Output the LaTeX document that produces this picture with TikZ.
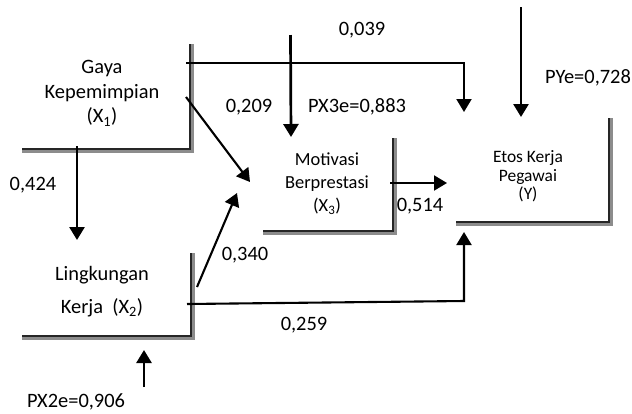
\documentclass[tikz,border=0pt]{standalone}
\usepackage{fontspec}
\setmainfont{Carlito}
\usetikzlibrary{arrows.meta}
\tikzset{
  shadowline/.style={line width=3.5bp, draw=black!45, line cap=butt, line join=miter},
  edgeline/.style={line width=1.5bp, draw=black!85, line join=miter},
  conn/.style={line width=2.1bp, -{Triangle[width=15bp,length=13bp]}},
  vconn/.style={line width=2.7bp, -{Triangle[width=15bp,length=13bp]}},
  lab/.style={font=\fontsize{20.5}{25}\selectfont, inner sep=0pt},
  bigtext/.style={align=center, font=\fontsize{20.5}{25}\selectfont, inner sep=0pt},
  midtext/.style={align=center, font=\fontsize{18.5}{23.5}\selectfont, inner sep=0pt},
  smalltext/.style={align=center, font=\fontsize{17.5}{18.5}\selectfont, inner sep=0pt},
}
\newcommand{\shadowL}[4]{% right x, top y, bottom y, left x
  \draw[shadowline] (#1+1.8,#2) -- (#1+1.8,#3+1.8) -- (#4,#3+1.8);
  \draw[edgeline] (#1,#2) -- (#1,#3) -- (#4,#3);
}
\begin{document}
\begin{tikzpicture}[x=1bp,y=-1bp]
\useasboundingbox (0,0) rectangle (632,413);

% box outlines (shadowed right and bottom edges)
\shadowL{190}{44}{149}{22}
\shadowL{191}{253}{336}{22}
\shadowL{393}{138}{231}{263}
\shadowL{609}{118}{222}{456}

% box texts
\node[bigtext] (x1) at (102,93) {Gaya\\Kepemimpian\\(X\textsubscript{1})};
\node[bigtext] (x2) at (102,291.5) {Lingkungan\\[8bp]Kerja\ \ (X\textsubscript{2})};
\node[midtext] (x3) at (327,183.5) {Motivasi\\Berprestasi\\(X\textsubscript{3})};
\node[smalltext] (y) at (528,176.5) {Etos Kerja\\Pegawai\\(Y)};

% labels
\node[lab] (l039) at (362,30) {0,039};
\node[lab] (l209) at (249,107) {0,209};
\node[lab] (lpx3) at (357,107) {PX3e=0,883};
\node[lab] (lpy) at (588,78) {PYe=0,728};
\node[lab] (l424) at (33,185) {0,424};
\node[lab] (l340) at (245,255) {0,340};
\node[lab] (l514) at (420,206) {0,514};
\node[lab] (l259) at (304,325) {0,259};
\node[lab] (lpx2) at (76,402) {PX2e=0,906};

% connector end points
\coordinate (x1r) at (186,63);
\coordinate (ytl) at (464,112);
\coordinate (px3s) at (290.5,35);
\coordinate (x3t) at (291,137);
\coordinate (pys) at (521,7);
\coordinate (yt) at (521,117);
\coordinate (x1d) at (186,97);
\coordinate (x3l) at (250,182);
\coordinate (x1b) at (77,146);
\coordinate (x2t) at (77,240);
\coordinate (x2r) at (197,287);
\coordinate (x3lb) at (237,193);
\coordinate (x3r) at (390,183);
\coordinate (yl) at (447,183);
\coordinate (x2rb) at (187,304);
\coordinate (ybl) at (464,232);
\coordinate (px2s) at (144,387);
\coordinate (x2b) at (144,350);

% connectors
\draw[conn] (x1r) -- (x1r -| ytl) -- (ytl);
\draw[vconn] (px3s) -- (x3t);
\draw[vconn] (pys) -- (yt);
\draw[conn] (x1d) -- (x3l);
\draw[vconn] (x1b) -- (x2t);
\draw[conn] (x2r) -- (x3lb);
\draw[conn] (x3r) -- (yl);
\draw[conn] (x2rb) -- ([yshift=3bp]x2rb -| ybl) -- (ybl);
\draw[vconn] (px2s) -- (x2b);
\end{tikzpicture}
\end{document}
